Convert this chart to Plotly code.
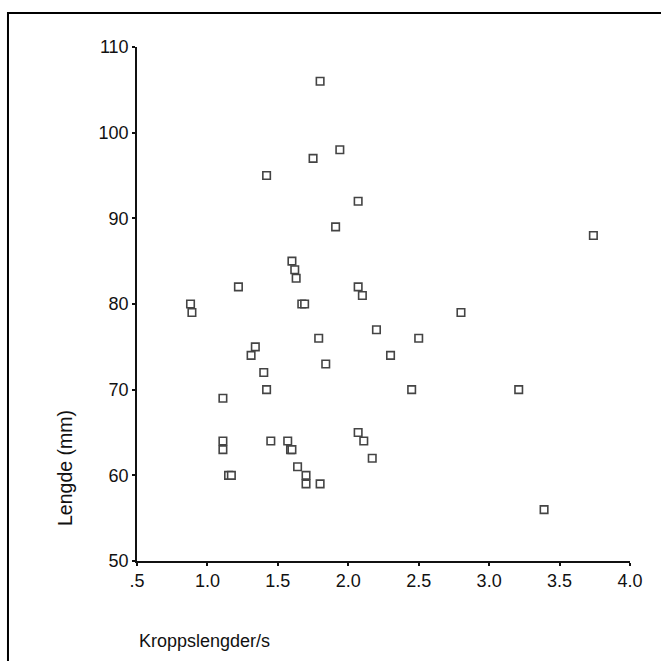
import plotly.graph_objects as go

# Kroppslengder/s (body lengths per second) and Lengde (mm)
speed = [1.80, 1.94, 1.75, 1.42, 2.07, 1.91, 1.60, 1.62, 1.63,
         1.22, 2.07, 2.10, 0.88, 0.89, 1.67, 1.69, 2.20, 1.79,
         1.34, 1.31, 1.84, 1.40, 1.42, 1.11, 2.07, 1.11, 1.45,
         1.57, 2.11, 1.11, 1.59, 1.60, 2.17, 1.64, 1.15, 1.17,
         1.70, 1.70, 1.80, 2.80, 2.50, 2.30, 2.45, 3.21, 3.39, 3.74]
length = [106, 98, 97, 95, 92, 89, 85, 84, 83,
          82, 82, 81, 80, 79, 80, 80, 77, 76,
          75, 74, 73, 72, 70, 69, 65, 64, 64,
          64, 64, 63, 63, 63, 62, 61, 60, 60,
          60, 59, 59, 79, 76, 74, 70, 70, 56, 88]

x_tickvals = [0.5, 1.0, 1.5, 2.0, 2.5, 3.0, 3.5, 4.0]
x_ticktext = [".5", "1.0", "1.5", "2.0", "2.5", "3.0", "3.5", "4.0"]
y_tickvals = [50, 60, 70, 80, 90, 100, 110]

FONT = "Liberation Sans, Arial, sans-serif"

fig = go.Figure()
fig.add_trace(go.Scatter(
    x=speed, y=length, mode="markers",
    marker=dict(symbol="square", size=7.5, color="white",
                line=dict(color="#444444", width=1.6)),
    showlegend=False, cliponaxis=False,
))

fig.update_layout(
    width=661, height=661, autosize=False,
    margin=dict(l=137, r=31, t=47, b=100),
    paper_bgcolor="white", plot_bgcolor="white",
    font=dict(family=FONT, size=18, color="#111"),
    xaxis=dict(range=[0.5, 4.0], tickvals=x_tickvals, ticktext=x_ticktext,
               showgrid=False, zeroline=False, showline=True,
               linecolor="#111", linewidth=1.5, ticks="outside",
               ticklen=3, tickwidth=2, tickcolor="#111",
               tickfont=dict(family=FONT, size=18, color="#111")),
    yaxis=dict(range=[50, 110], tickvals=y_tickvals,
               showgrid=False, zeroline=False, showline=True,
               linecolor="#111", linewidth=1.5, ticks="outside",
               ticklen=3, tickwidth=2, tickcolor="#111",
               tickfont=dict(family=FONT, size=18, color="#111")),
    shapes=[dict(type="rect", xref="paper", yref="paper",
                 x0=-0.2617, x1=1.2, y0=-0.3, y1=1.066,
                 line=dict(color="black", width=2), fillcolor="rgba(0,0,0,0)",
                 layer="above")],
    annotations=[
        dict(text="Kroppslengder/s", xref="paper", yref="paper",
             x=0, y=-0.155, xanchor="left", yanchor="middle",
             showarrow=False, font=dict(family=FONT, size=18, color="#111")),
        dict(text="Lengde (mm)", xref="paper", yref="paper",
             x=-0.145, y=0.18, xanchor="center", yanchor="middle",
             textangle=-90, showarrow=False,
             font=dict(family=FONT, size=19.5, color="#111")),
    ],
)

fig.write_html("out.html")
